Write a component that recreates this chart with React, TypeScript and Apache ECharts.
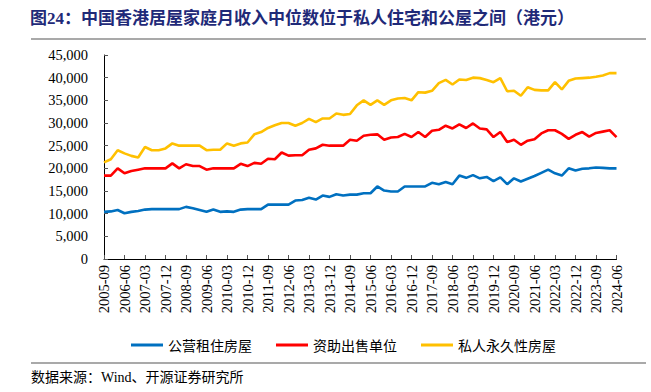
import React, { useEffect, useRef } from "react";
import * as echarts from "echarts";

const titleText = "图24：中国香港居屋家庭月收入中位数位于私人住宅和公屋之间（港元）";
const sourceText = "数据来源：Wind、开源证券研究所";
const seriesNames = ["公营租住房屋", "资助出售单位", "私人永久性房屋"];

// quarterly categories 2005-09 .. 2024-06
const categories: string[] = [];
for (let y = 2005; y <= 2024; y++) {
  for (const m of ["03", "06", "09", "12"]) {
    const key = `${y}-${m}`;
    if (key >= "2005-09" && key <= "2024-06") categories.push(key);
  }
}

const publicRental = [
  10400, 10500, 10800, 10100, 10400, 10600, 10900, 11000, 11000, 11000,
  11000, 11000, 11500, 11200, 10800, 10400, 10900, 10400, 10500, 10400,
  10900, 11000, 11000, 11000, 12000, 12000, 12000, 12000, 12900, 13000,
  13500, 13100, 14000, 13700, 14300, 14000, 14200, 14200, 14500, 14500,
  16000, 15100, 14900, 14900, 16000, 16000, 16000, 16000, 16800, 16500,
  17000, 16500, 18400, 17900, 18500, 17800, 18100, 17200, 18000, 16500,
  17800, 17100, 17700, 18300, 19000, 19700, 18900, 18400, 20000, 19500,
  19900, 20000, 20200, 20100, 20000, 20000,
];

const subsidisedSale = [
  18400, 18400, 20000, 18900, 19400, 19700, 20000, 20000, 20000, 20000,
  21100, 20000, 20900, 20500, 20500, 19700, 20000, 20000, 20000, 20000,
  21000, 20500, 21200, 21000, 22100, 22000, 23500, 22800, 22900, 22900,
  24100, 24400, 25200, 25000, 25000, 25000, 26300, 26100, 27200, 27400,
  27500, 26300, 26800, 26900, 27600, 26900, 28000, 26900, 28300, 28500,
  29400, 28800, 29700, 28900, 29900, 28800, 28600, 26900, 28000, 25800,
  26300, 25200, 26100, 26400, 27700, 28400, 28400, 27600, 26500, 27400,
  28000, 27000, 27800, 28100, 28400, 26900,
];

const privatePermanent = [
  21300, 22000, 24000, 23300, 22750, 22400, 24700, 24000, 24000, 24400,
  25500, 25000, 25000, 25000, 25000, 24000, 24100, 24100, 25500, 25000,
  25500, 25700, 27500, 28000, 28900, 29500, 30000, 30000, 29400, 30000,
  30900, 30200, 31000, 31000, 32100, 31800, 32000, 33900, 35000, 34000,
  35000, 34000, 35000, 35400, 35500, 35000, 36800, 36700, 37100, 38800,
  39500, 38500, 39600, 39500, 40000, 39900, 39500, 39000, 39900, 37000,
  37100, 36000, 37900, 37300, 37200, 37200, 39000, 37400, 39300, 39800,
  39900, 40000, 40200, 40500, 41000, 41000,
];

const colors = ["#0070C0", "#FF0000", "#FFC000"];
const serifFont = "'Liberation Serif', 'Times New Roman', serif";
const cjkFont = "'Liberation Serif', 'Noto Sans CJK SC', sans-serif";

export default function App() {
  const ref = useRef<HTMLDivElement>(null);
  useEffect(() => {
    if (!ref.current) return;
    const chart = echarts.init(ref.current, null, { renderer: "svg" });
    const mkSeries = (name: string, data: number[], color: string) => ({
      name,
      type: "line",
      data,
      symbol: "none",
      lineStyle: { color, width: 2.6 },
      itemStyle: { color },
    });
    chart.setOption({
      animation: false,
      backgroundColor: "#ffffff",
      grid: { left: 104, right: 34.5, top: 55, bottom: 133 },
      legend: {
        data: seriesNames,
        left: 126,
        top: 333,
        icon: "rect",
        itemWidth: 32,
        itemHeight: 3,
        itemGap: 24,
        textStyle: { fontFamily: "'Noto Sans CJK SC', sans-serif", fontSize: 14, color: "#000" },
      },
      xAxis: {
        type: "category",
        data: categories,
        boundaryGap: false,
        axisLine: { lineStyle: { color: "#000", width: 1 } },
        axisTick: { interval: 2, inside: true, length: 4, lineStyle: { color: "#555" } },
        axisLabel: {
          interval: 2,
          rotate: 90,
          margin: 6,
          fontFamily: serifFont,
          fontSize: 14.5,
          color: "#000",
        },
        splitLine: { show: false },
      },
      yAxis: {
        type: "value",
        min: 0,
        max: 45000,
        interval: 5000,
        axisLine: { show: true, lineStyle: { color: "#000", width: 1 } },
        axisTick: { show: true, inside: true, length: 4, lineStyle: { color: "#555" } },
        axisLabel: {
          margin: 16,
          fontFamily: serifFont,
          fontSize: 14.5,
          color: "#000",
          formatter: (v: number) => v.toLocaleString("en-US"),
        },
        splitLine: { show: false },
      },
      series: [
        mkSeries(seriesNames[0], publicRental, colors[0]),
        mkSeries(seriesNames[1], subsidisedSale, colors[1]),
        mkSeries(seriesNames[2], privatePermanent, colors[2]),
      ],
      graphic: [
        {
          type: "text",
          left: 30,
          top: 10,
          style: {
            text: titleText,
            font: "bold 17px 'Liberation Serif', 'Noto Sans CJK SC', sans-serif",
            fill: "#1F2A78",
          },
        },
        {
          type: "line",
          shape: { x1: 31, y1: 39, x2: 646, y2: 39 },
          style: { stroke: "#8C8C8C", lineWidth: 1.5 },
        },
        {
          type: "line",
          shape: { x1: 31, y1: 363, x2: 646, y2: 363 },
          style: { stroke: "#8C8C8C", lineWidth: 1.5 },
        },
        {
          type: "text",
          left: 31,
          top: 370,
          style: {
            text: sourceText,
            font: `14px ${cjkFont}`,
            fill: "#000",
          },
        },
      ],
    });
    return () => chart.dispose();
  }, []);
  return (
    <div
      ref={ref}
      style={{ position: "absolute", left: 0, top: 0, width: 651, height: 392 }}
    />
  );
}
